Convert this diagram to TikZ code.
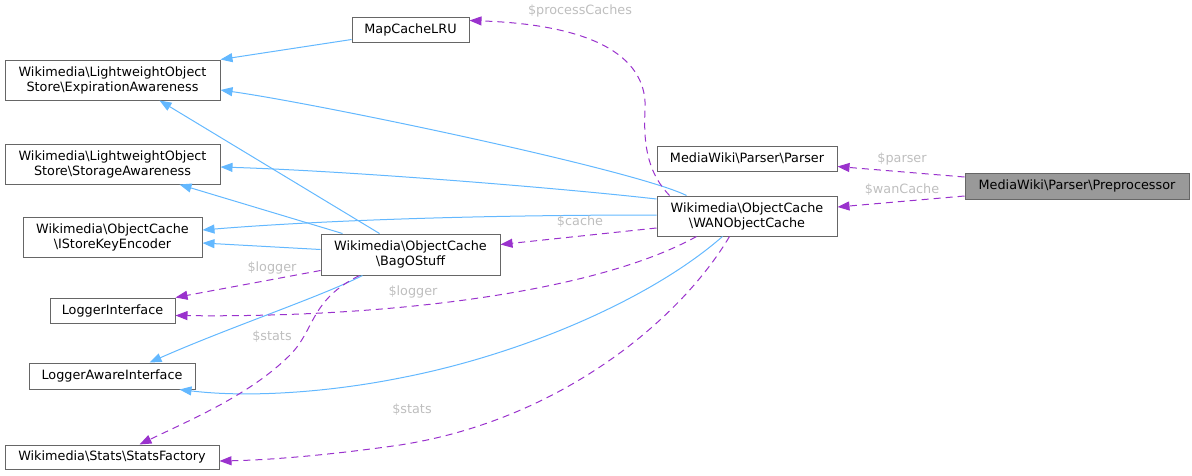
\documentclass[tikz,border=0pt]{standalone}
\usepackage{fontspec}
\setmainfont{DejaVu Sans}
\usepackage{tikz}
\usetikzlibrary{arrows.meta,positioning}
\usepackage{xcolor}
\definecolor{boxgray}{RGB}{102,102,102}
\definecolor{mainfill}{RGB}{153,153,153}
\definecolor{edgeblue}{RGB}{99,184,255}
\definecolor{edgepurple}{RGB}{154,50,205}
\definecolor{labelgray}{RGB}{190,190,190}
\newcommand{\bs}{\textbackslash}

\tikzset{
  cls/.style={draw=boxgray,fill=white,line width=1pt,inner sep=0pt,align=center,
    font=\fontsize{12.8}{15}\selectfont,minimum height=25pt},
  cls2/.style={cls,minimum height=40pt},
  inherit/.style={draw=edgeblue,line width=1pt,-{Triangle[length=12pt,width=9pt]}},
  uses/.style={draw=edgepurple,line width=1pt,dash pattern=on 7pt off 5pt,
    -{Triangle[length=12pt,width=9pt]}},
  lbl/.style={text=labelgray,font=\fontsize{12.8}{15}\selectfont,inner sep=0pt}
}

\begin{document}
\begin{tikzpicture}[x=1pt,y=-1pt]
  \useasboundingbox (0,0) rectangle (1192,475);

  % classes
  \node[cls,minimum width=117pt] (map) at (410.5,29.5) {MapCacheLRU};
  \node[cls2,minimum width=215pt] (exp) at (112.5,80) {Wikimedia\bs LightweightObject\\Store\bs ExpirationAwareness};
  \node[cls2,minimum width=215pt] (sto) at (112.5,164) {Wikimedia\bs LightweightObject\\Store\bs StorageAwareness};
  \node[cls2,minimum width=179pt] (enc) at (112.5,237) {Wikimedia\bs ObjectCache\\\bs IStoreKeyEncoder};
  \node[cls,minimum width=125pt] (log) at (112.5,310.5) {LoggerInterface};
  \node[cls,minimum width=166pt,minimum height=26pt] (law) at (112,376) {LoggerAwareInterface};
  \node[cls,minimum width=214pt,minimum height=24pt] (stf) at (112,457) {Wikimedia\bs Stats\bs StatsFactory};
  \node[cls2,minimum width=179pt,minimum height=41pt] (bag) at (410.5,254.5) {Wikimedia\bs ObjectCache\\\bs BagOStuff};
  \node[cls,minimum width=180pt] (par) at (747,158.5) {MediaWiki\bs Parser\bs Parser};
  \node[cls2,minimum width=180pt] (wan) at (747,216) {Wikimedia\bs ObjectCache\\\bs WANObjectCache};
  \node[cls,fill=mainfill,minimum width=224pt,minimum height=26pt] (pre) at (1077,186) {MediaWiki\bs Parser\bs Preprocessor};

  % inheritance
  \draw[inherit] ([yshift=3pt]map.south west) -- (exp.north east);
  \draw[inherit] ([xshift=30pt]wan.north west) .. controls (635,170) and (320,104) .. ([yshift=-10pt]exp.east);
  \draw[inherit] ([xshift=59pt]bag.north west) -- ([xshift=155pt]exp.south west);
  \draw[inherit] ([yshift=17pt]wan.west) .. controls (560,188) and (350,171) .. ([yshift=-3pt]sto.east);
  \draw[inherit] ([xshift=22pt]bag.north west) -- ([xshift=175pt]sto.south west);
  \draw[inherit] ([yshift=1pt]wan.west) .. controls (450,215) and (300,222) .. ([yshift=7pt]enc.east);
  \draw[inherit] ([yshift=5pt]bag.west) -- ([yshift=-6pt]enc.east);
  \draw[inherit] ([xshift=42pt]bag.south west) .. controls (320,297) and (230,327) .. ([xshift=121pt]law.north west);
  \draw[inherit] ([xshift=66pt]wan.south west) .. controls (650,300) and (520,355) .. (400,378)
    .. controls (330,392) and (250,398) .. ([xshift=151pt]law.south west);

  % members
  \draw[uses] ([yshift=9pt]pre.west) -- ([yshift=-8pt]par.east);
  \draw[uses] ([yshift=-10pt]pre.west) -- ([yshift=9pt]wan.east);
  \draw[uses] ([yshift=-12pt]wan.west) -- ([yshift=10pt]bag.east);
  \draw[uses] ([xshift=13pt]wan.north west) .. controls (650,175) and (643,150) .. (645,110)
    .. controls (648,60) and (600,25) .. ([yshift=9pt]map.east);
  \draw[uses] ([yshift=-16pt]bag.west) -- (log.north east);
  \draw[uses] ([xshift=40pt]wan.south west) .. controls (600,290) and (400,318) .. ([yshift=-5pt]log.east);
  \draw[uses] ([xshift=39pt]bag.south west) .. controls (310,300) and (315,330) .. (290,355)
    .. controls (250,395) and (190,420) .. ([xshift=135pt]stf.north west);
  \draw[uses] ([xshift=73pt]wan.south west) .. controls (680,320) and (560,420) .. (400,445)
    .. controls (330,455) and (270,460) .. ([yshift=-4pt]stf.east);

  % labels
  \node[lbl] (lproc) at (580,11) {\$processCaches};
  \node[lbl] (lparser) at (902,159) {\$parser};
  \node[lbl] (lwan) at (902,190) {\$wanCache};
  \node[lbl] (lcache) at (580,222) {\$cache};
  \node[lbl] (llogbag) at (272,268) {\$logger};
  \node[lbl] (llogwan) at (413,292) {\$logger};
  \node[lbl] (lstatsbag) at (272,337) {\$stats};
  \node[lbl] (lstatswan) at (412,410) {\$stats};
\end{tikzpicture}
\end{document}
